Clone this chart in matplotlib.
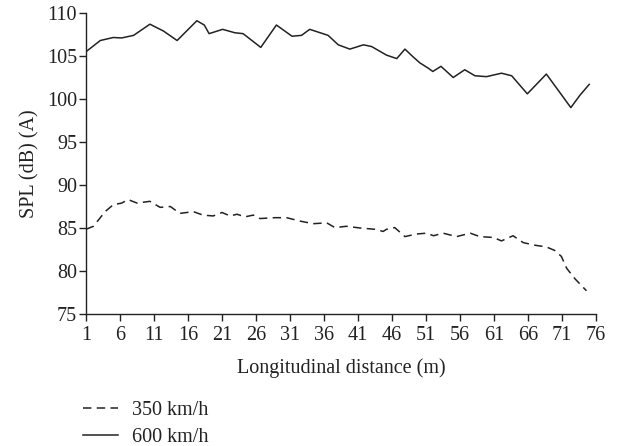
import matplotlib
matplotlib.use("Agg")
import matplotlib.pyplot as plt

plt.rcParams['font.family'] = ['Liberation Serif', 'DejaVu Serif']

# 600 km/h series
dist_600 = [1, 3.1, 5.0, 6.25, 8.0, 10.4, 12.4, 14.4, 17.3, 18.4, 19.1, 21.1, 22.9, 24.1,
            26.7, 29.0, 31.3, 32.7, 33.9, 36.6, 38.1, 39.8, 41.8, 43.0, 45.2, 46.7,
            47.9, 49.1, 50.1, 51.3, 52.0, 53.2, 55.0, 56.7, 58.2, 59.9, 62.1, 63.6,
            65.9, 68.7, 72.3, 73.6, 75.0]
spl_600 = [105.5, 106.8, 107.15, 107.1, 107.4, 108.7, 107.9, 106.8, 109.1, 108.6, 107.6,
           108.1, 107.7, 107.6, 106.0, 108.6, 107.3, 107.4, 108.1, 107.4, 106.3, 105.8,
           106.3, 106.1, 105.1, 104.7, 105.8, 104.9, 104.2, 103.6, 103.2, 103.8, 102.5,
           103.4, 102.7, 102.6, 103.0, 102.7, 100.6, 102.9, 99.0, 100.4, 101.7]

# 350 km/h series
dist_350 = [1, 2.1, 3.8, 5.0, 6.25, 7.2, 8.5, 10.4, 11.9, 13.4, 14.8, 16.8, 18.2, 19.7,
            21.0, 22.2, 23.2, 24.4, 25.6, 26.6, 28.8, 30.5, 32.5, 34.4, 36.4, 37.6,
            39.3, 41.3, 43.5, 44.7, 45.2, 46.4, 47.9, 49.6, 51.1, 52.1, 53.5, 55.5,
            57.5, 58.9, 60.9, 62.1, 63.8, 65.3, 67.0, 68.7, 69.9, 70.9, 71.7, 72.9, 74.6]
spl_350 = [84.85, 85.2, 86.9, 87.7, 87.9, 88.3, 87.9, 88.1, 87.4, 87.5, 86.7, 86.9, 86.5,
           86.4, 86.8, 86.4, 86.6, 86.3, 86.5, 86.1, 86.2, 86.2, 85.8, 85.5, 85.6, 85.05,
           85.2, 85.0, 84.85, 84.6, 84.85, 85.05, 84.0, 84.3, 84.4, 84.1, 84.4, 84.0,
           84.4, 84.0, 83.9, 83.5, 84.1, 83.3, 83.0, 82.8, 82.4, 81.7, 80.3, 79.1, 77.7]

x_ticks = list(range(1, 77, 5))
y_ticks = [75, 80, 85, 90, 95, 100, 105, 110]

fig = plt.figure(figsize=(6.2, 4.46), dpi=100)
ax = fig.add_axes([86/620, 1-314/446, (596-86)/620, (314-13)/446])

color = '#222222'
fs = 14.5
l1, = ax.plot(dist_350, spl_350, color=color, lw=1.1, linestyle=(0, (5.5, 3.5)),
              label='350 km/h', solid_joinstyle='round')
l2, = ax.plot(dist_600, spl_600, color=color, lw=1.1, label='600 km/h',
              solid_joinstyle='round')

ax.set_xlim(1, 76)
ax.set_ylim(75, 110)
ax.set_xticks(x_ticks)
ax.set_yticks(y_ticks)
ax.spines['top'].set_visible(False)
ax.spines['right'].set_visible(False)
for s in ['left', 'bottom']:
    ax.spines[s].set_color(color)
    ax.spines[s].set_linewidth(1.0)
ax.tick_params(axis='both', direction='out', length=5, width=1.0, color=color,
               labelsize=fs, labelcolor=color)
ax.tick_params(axis='x', pad=4)
ax.tick_params(axis='y', pad=1.5)
ax.set_xlabel('Longitudinal distance (m)', fontsize=fs, color=color, labelpad=9)
ax.set_ylabel('SPL (dB) (A)', fontsize=fs, color=color, labelpad=5)

fig.legend(handles=[l1, l2], loc='upper left', bbox_to_anchor=(83/620, 1-401/446),
           frameon=False, fontsize=fs, handlelength=1.75, handletextpad=0.7,
           labelspacing=0.4, labelcolor=color, borderaxespad=0, borderpad=0)

fig.savefig('out.png', dpi=100)
